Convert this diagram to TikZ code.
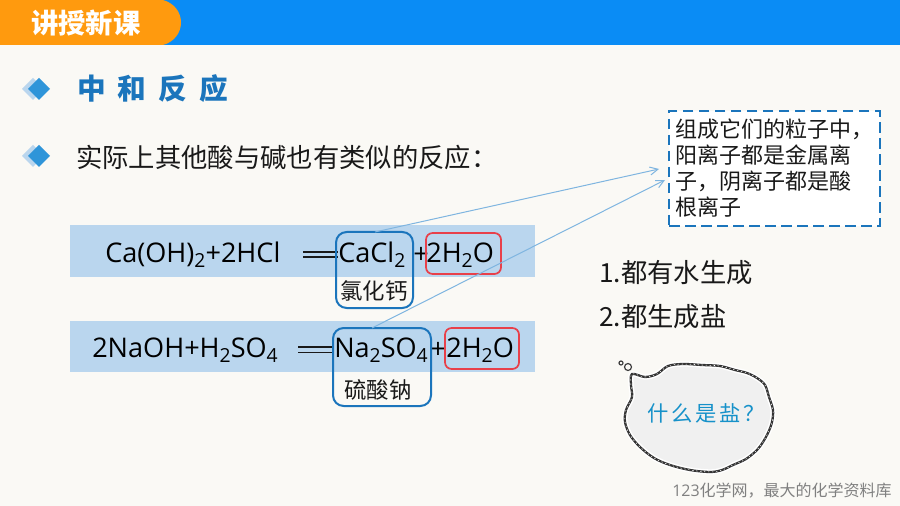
\documentclass[tikz,border=0pt]{standalone}
\usepackage{fontspec}
\usetikzlibrary{arrows.meta}
\setmainfont{Open Sans}
\newfontfamily\cjk{Noto Sans CJK SC}
\newcommand{\hao}[1]{\fontsize{#1}{#1}\selectfont}
\newcommand{\chemsub}[1]{\raisebox{-0.35ex}{\hao{14.5}#1}}
\definecolor{pagebg}{HTML}{FAF9F5}
\definecolor{headblue}{HTML}{0A8CF5}
\definecolor{headorange}{HTML}{FF9A0E}
\definecolor{barblue}{HTML}{BAD6EE}
\definecolor{boxblue}{HTML}{1B75BC}
\definecolor{boxred}{HTML}{E8404A}
\definecolor{linkblue}{HTML}{7FB5E0}
\tikzset{
	formula/.style={anchor=west,inner sep=0pt,text=black,font=\hao{20.3}},
	chinese/.style={anchor=west,inner sep=0pt,text=black!90,font=\cjk\hao{19.75}},
	bluebox/.style={draw=boxblue,line width=1.5pt,rounded corners=8pt,inner sep=0pt},
	redbox/.style={draw=boxred,line width=1.3pt,rounded corners=5pt,inner sep=0pt},
	bar/.style={fill=barblue,draw=none,inner sep=0pt,minimum width=348.75pt,anchor=north west},
	link/.style={draw=linkblue,line width=0.75pt,-{Straight Barb[length=6pt,width=6pt]}},
}
\begin{document}
\begin{tikzpicture}[x=0.75pt,y=-0.75pt]
\useasboundingbox (0,0) rectangle (900,506);
\fill[pagebg] (0,0) rectangle (900,506);
% header
\fill[headblue] (0,0) rectangle (900,45);
\fill[headorange] (0,0) -- (163,0) .. controls (174,3) and (181,12) .. (181,22.5)
	.. controls (181,33) and (174,42) .. (163,45) -- (0,45) -- cycle;
\node[anchor=west,inner sep=0pt,text=white,font=\cjk\bfseries\hao{20.5}] (title) at (31,23) {讲授新课};
% diamonds
\foreach \y in {89,156} {
	\fill[barblue] (33,\y-11) -- (44,\y) -- (33,\y+11) -- (22,\y) -- cycle;
	\fill[cyan!70!blue!85!white] (39,\y-11) -- (50,\y) -- (39,\y+11) -- (28,\y) -- cycle;
}
\node[anchor=west,inner sep=0pt,text=boxblue,font=\cjk\bfseries\hao{21.5}] (heading) at (77,89)
	{\addfontfeature{LetterSpace=42}中和反应};
\node[chinese] (intro) at (76,157) {实际上其他酸与碱也有类似的反应：};
% bars
\node[bar,minimum height=39pt] (barone) at (70,225) {};
\node[bar,minimum height=38.25pt] (bartwo) at (70,321) {};
% first equation
\node[formula] (eqoneleft) at (105,255) {Ca(OH)\chemsub{2}+2HCl};
\draw[black!90,line width=1.1pt] (303,252) -- (338,252) (303,257) -- (338,257);
\node[formula] (cacl) at (338,255) {CaCl\chemsub{2}};
\node[formula] (plusone) at (413,255) {+};
\node[formula] (h2oone) at (426,255) {2H\chemsub{2}O};
\node[bluebox,minimum width=57.75pt,minimum height=57pt] (caclbox) at (374.5,270) {};
\node[redbox,minimum width=56.25pt,minimum height=30.75pt] (waterone) at (463.5,253.5) {};
\node[chinese,anchor=center,font=\cjk\hao{16.8}] (caclname) at (374,291) {氯化钙};
% second equation
\node[formula] (eqtwoleft) at (92,350) {2NaOH+H\chemsub{2}SO\chemsub{4}};
\draw[black!90,line width=1.1pt] (298,347) -- (333,347) (298,352.5) -- (333,352.5);
\node[formula] (naso) at (334,350) {Na\chemsub{2}SO\chemsub{4}};
\node[formula] (plustwo) at (430,350) {+};
\node[formula] (h2otwo) at (446,350) {2H\chemsub{2}O};
\node[bluebox,minimum width=73.5pt,minimum height=58.5pt] (nasobox) at (382,367) {};
\node[redbox,minimum width=55.5pt,minimum height=30.75pt] (watertwo) at (482,348.5) {};
\node[chinese,anchor=center,font=\cjk\hao{16.8}] (nasoname) at (378,390) {硫酸钠};
% note
\node[draw=boxblue,fill=white,line width=1.5pt,dash pattern=on 8pt off 4pt,anchor=north west,
	minimum width=158pt,minimum height=86.25pt,inner sep=0pt] (note) at (668,110) {};
\node[chinese,align=left,anchor=north west,font=\cjk\hao{16.5}] (notetext) at (675,119)
	{组成它们的粒子中，\\[3pt]阳离子都是金属离\\[3pt]子，阴离子都是酸\\[3pt]根离子};
\coordinate (linkone) at (659,169);
\coordinate (linktwo) at (665,180);
\coordinate (startone) at (375,232);
\coordinate (starttwo) at (372,328);
\draw[link] (startone) -- (linkone);
\draw[link] (starttwo) -- (linktwo);
% points
\node[chinese] (pointone) at (599,273) {1.\cjk 都有水生成};
\node[chinese] (pointtwo) at (599,317) {2.\cjk 都生成盐};
% cloud
\path[fill=black!6,draw=white,line width=4pt,
	postaction={draw=black!80,line width=1.7pt},
	postaction={draw=white,line width=0.4pt,dash pattern=on 1pt off 2pt}]
	plot[smooth cycle,tension=0.55] coordinates {(632,374) (645,377) (657,374) (668,366) (683,364)
	(702,365) (720,366) (735,370) (747,373) (757,378) (765,385) (769,397) (773,410) (772,422)
	(768,433) (763,442) (757,450) (746,459) (733,465) (722,470) (710,472) (690,470) (670,465)
	(654,458) (640,447) (630,435) (625,422) (626,410) (632,397) (631,385)};
\draw[black!75,line width=0.9pt,fill=pagebg] (628,367) circle(3.5) (621,363) circle(2);
\node[anchor=center,inner sep=0pt,text=boxblue!80!cyan,font=\cjk\hao{16}] (question) at (706,413)
	{\addfontfeature{LetterSpace=12}什么是盐？};
% watermark
\node[anchor=east,inner sep=0pt,text=black!50,font=\hao{12}] (mark) at (892,491) {123\cjk 化学网，最大的化学资料库};
\end{tikzpicture}
\end{document}
